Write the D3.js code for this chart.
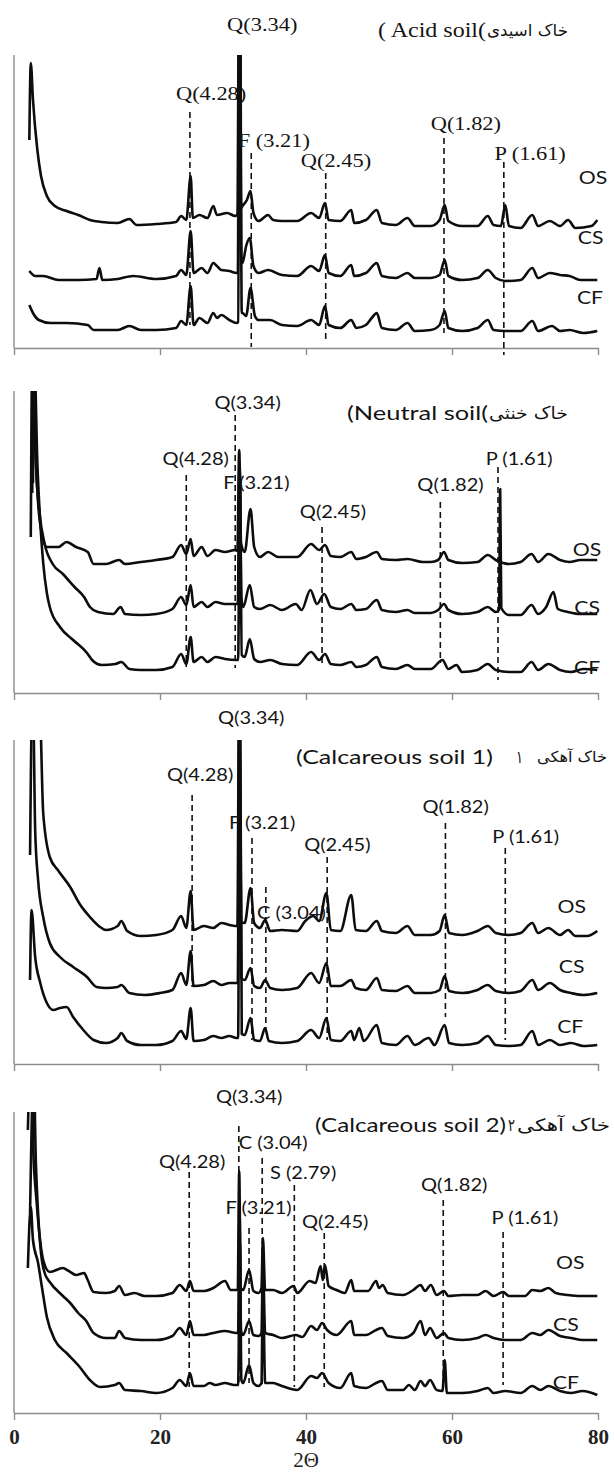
<!DOCTYPE html>
<html>
<head>
<meta charset="utf-8">
<script src="https://cdn.jsdelivr.net/npm/d3@7"></script>
<style>
  body { margin: 0; background: #fff; }
</style>
</head>
<body>
<div id="chart"></div>
<script>
// ---- data: [2theta, intensity (a.u., stacked)] ----
var acidOS = [[2.1,208],[2.3,285],[2.6,248],[3.2,198],[3.7,172],[4.5,152],[5.6,142],[7.2,137],[8.8,133],[10.4,128],[12.0,126],[14.2,125],[15.8,129],[16.8,123],[19.5,124],[22.2,126],[22.9,132],[23.6,128],[24.2,172],[24.5,130],[25.4,133],[26.5,130],[27.3,142],[27.8,133],[29.2,135],[30.3,132],[30.6,134],[30.85,400],[31.1,140],[31.3,142],[31.9,148],[32.4,157],[32.8,135],[33.5,127],[34.8,133],[35.5,128],[36.7,127],[38.8,127],[40.7,135],[41.8,130],[42.6,145],[43.1,128],[44.7,127],[46.2,138],[46.6,125],[48.2,128],[49.7,138],[50.4,125],[52.3,123],[53.9,130],[54.9,122],[57.1,122],[58.3,128],[59.0,143],[59.5,127],[61.4,122],[63.5,122],[64.9,132],[65.7,123],[66.7,122],[67.3,143],[67.8,122],[69.4,120],[71.0,133],[71.8,122],[73.4,127],[74.8,122],[75.9,128],[76.9,120],[79.1,122],[79.9,128]];
var acidCS = [[2.1,77],[2.9,72],[4.0,72],[6.1,68],[8.8,68],[11.3,69],[11.7,80],[12.1,68],[14.2,69],[16.3,72],[19.5,69],[22.2,72],[22.9,78],[23.6,73],[24.2,117],[24.6,75],[25.7,80],[26.5,75],[27.3,85],[27.8,82],[28.4,78],[29.5,77],[30.5,75],[30.65,76],[30.9,400],[31.15,85],[31.3,85],[31.8,102],[32.3,110],[32.8,82],[33.5,75],[34.8,78],[36.7,73],[38.8,72],[40.7,82],[41.8,77],[42.6,93],[43.1,75],[44.7,72],[46.2,83],[46.6,72],[48.2,75],[49.7,85],[50.4,72],[52.3,70],[53.9,75],[54.9,70],[57.1,70],[58.3,73],[59.0,88],[59.5,72],[61.4,68],[63.5,70],[64.9,78],[66.0,70],[67.3,67],[69.4,68],[71.0,80],[71.8,70],[73.4,75],[74.8,73],[76.1,72],[77.6,68],[79.9,68]];
var acidCF = [[2.1,43],[2.6,35],[3.4,28],[5.0,25],[7.2,25],[10.1,23],[10.9,18],[14.2,18],[15.8,22],[17.4,18],[19.5,18],[22.2,20],[22.9,27],[23.6,23],[24.2,62],[24.6,23],[25.4,30],[26.5,25],[27.3,35],[27.8,30],[28.4,33],[29.5,28],[30.5,25],[30.7,26],[30.95,400],[31.2,35],[31.3,35],[31.8,32],[32.4,60],[33.0,32],[33.5,28],[35.1,28],[36.7,23],[38.8,22],[40.7,28],[41.8,23],[42.6,42],[43.1,23],[44.7,20],[46.2,28],[46.9,20],[48.2,23],[49.0,30],[49.7,35],[50.4,20],[52.3,18],[53.9,25],[54.9,17],[57.1,18],[58.3,23],[59.0,37],[59.5,20],[61.4,17],[63.5,20],[64.9,28],[65.7,18],[67.3,17],[69.4,17],[71.0,27],[71.8,17],[73.7,22],[74.8,17],[76.1,18],[78.0,15],[79.9,17]];

var neutralOS = [[2.3,156],[2.5,330],[2.9,250],[3.3,190],[3.8,160],[4.5,146],[6.1,146],[7.2,151],[8.5,146],[10.1,141],[10.9,129],[12.6,129],[14.4,133],[15.2,129],[17.4,131],[19.5,133],[21.7,136],[22.9,148],[23.6,139],[24.2,154],[24.6,137],[25.7,146],[26.5,137],[27.6,143],[28.9,141],[30.3,143],[30.6,142],[30.85,243],[31.1,150],[31.6,141],[32.4,184],[32.9,146],[33.7,136],[34.8,141],[36.2,136],[38.8,136],[40.7,149],[41.8,143],[42.6,148],[43.4,137],[44.7,136],[46.2,141],[46.9,134],[48.2,136],[49.7,141],[50.4,134],[52.3,133],[53.9,134],[56.0,131],[57.1,131],[58.1,133],[58.9,141],[59.5,133],[61.4,130],[63.5,131],[64.9,138],[66.0,133],[67.8,129],[69.4,131],[70.9,139],[71.8,131],[73.2,139],[74.8,133],[76.1,131],[77.6,133],[79.9,133]];
var neutralCS = [[2.5,200],[2.7,330],[3.0,230],[3.5,180],[4.2,149],[5.3,129],[6.7,119],[8.3,106],[9.6,96],[10.4,86],[11.5,81],[13.6,79],[14.6,86],[15.2,79],[17.4,78],[19.5,79],[21.7,84],[22.9,96],[23.6,88],[24.2,108],[24.6,86],[25.7,91],[26.5,86],[27.6,91],[28.9,89],[30.3,89],[30.65,89],[30.9,230],[31.15,95],[31.4,86],[32.3,108],[32.9,86],[33.7,84],[35.1,88],[36.7,83],[38.6,89],[39.4,83],[40.6,103],[41.5,89],[42.5,99],[43.4,86],[44.7,84],[46.2,89],[46.9,83],[48.2,84],[49.7,93],[50.4,83],[52.3,81],[53.9,83],[54.9,80],[57.1,80],[58.1,83],[58.9,89],[59.5,83],[61.4,79],[63.5,81],[64.9,86],[66.0,81],[66.45,83],[66.6,204],[66.75,85],[67.8,78],[69.4,78],[70.9,88],[71.8,79],[72.9,86],[73.9,101],[74.5,84],[75.9,81],[77.6,79],[79.9,79]];
var neutralCF = [[2.6,210],[2.8,330],[3.2,230],[3.6,170],[4.0,130],[4.5,100],[4.9,86],[6.3,66],[8.1,53],[10.0,40],[10.7,33],[12.0,28],[13.9,29],[14.7,31],[15.8,24],[17.4,23],[19.5,23],[21.7,26],[22.9,39],[23.6,29],[24.2,56],[24.6,31],[25.7,36],[26.5,31],[27.6,36],[28.9,34],[30.5,33],[30.7,33],[30.95,220],[31.2,38],[31.6,36],[32.3,54],[32.9,34],[33.7,31],[35.1,33],[36.7,29],[38.8,28],[40.7,41],[41.8,33],[42.6,39],[43.4,29],[44.7,28],[46.2,31],[46.9,26],[48.2,28],[49.7,36],[50.4,26],[52.3,24],[53.9,28],[54.9,24],[57.1,24],[58.7,33],[59.5,24],[60.6,28],[61.4,21],[63.5,23],[64.9,29],[66.0,23],[67.8,21],[69.4,21],[70.9,31],[71.8,23],[73.2,29],[74.8,23],[76.3,21],[78.0,24],[79.9,23]];

var calc1OS = [[2.2,209],[2.5,360],[3.5,360],[4.0,251],[4.9,207],[6.1,193],[7.7,177],[9.0,160],[10.4,147],[11.8,137],[12.6,134],[14.2,138],[14.7,143],[15.5,133],[17.4,128],[19.5,129],[21.7,134],[22.9,148],[23.6,136],[24.2,173],[24.6,134],[26.0,138],[27.3,136],[28.4,141],[29.5,139],[30.3,138],[30.6,138],[30.85,400],[31.1,142],[31.6,141],[32.4,176],[32.9,141],[33.7,136],[34.4,144],[35.1,133],[36.7,134],[38.8,133],[39.9,143],[41.0,148],[41.8,143],[42.8,171],[43.4,134],[44.7,133],[46.2,169],[46.8,134],[48.2,133],[49.7,143],[50.4,133],[52.3,131],[53.9,138],[54.9,129],[57.1,129],[58.3,133],[59.0,149],[59.6,131],[61.4,129],[63.5,133],[64.9,138],[66.0,131],[67.8,129],[69.4,131],[71.0,141],[71.8,131],[73.2,136],[74.8,129],[75.9,134],[76.9,128],[78.5,128],[79.9,133]];
var calc1CS = [[2.4,360],[2.6,360],[2.9,234],[3.3,184],[4.0,147],[4.9,121],[6.3,107],[8.1,97],[10.0,87],[11.3,77],[12.6,76],[14.2,77],[14.7,79],[15.8,71],[17.9,69],[20.0,71],[21.7,74],[22.9,91],[23.6,79],[24.2,113],[24.6,78],[26.0,79],[27.3,83],[28.4,79],[29.5,81],[30.5,81],[30.65,81],[30.9,400],[31.15,86],[31.6,84],[32.4,96],[32.9,78],[33.7,76],[34.4,84],[35.1,76],[36.7,74],[38.8,76],[40.7,91],[41.8,81],[42.8,101],[43.4,78],[44.7,78],[46.2,84],[46.8,76],[48.2,74],[49.7,86],[50.4,74],[52.3,73],[53.9,78],[54.9,71],[57.1,71],[58.3,74],[59.0,88],[59.6,73],[61.4,71],[63.5,74],[64.9,79],[66.0,73],[67.8,71],[69.4,73],[71.0,84],[71.8,74],[73.4,81],[74.8,74],[76.3,71],[78.0,69],[79.9,71]];
var calc1CF = [[2.2,84],[2.4,154],[2.9,107],[3.6,81],[4.5,61],[5.4,54],[6.3,56],[7.2,57],[8.1,47],[9.5,34],[10.9,24],[12.6,21],[14.2,26],[14.7,31],[15.5,23],[17.4,19],[19.5,19],[21.7,23],[22.9,33],[23.6,25],[24.2,56],[24.6,23],[26.0,24],[27.3,28],[28.4,26],[29.5,28],[30.5,26],[30.7,26],[30.95,400],[31.2,30],[31.6,29],[32.4,46],[32.9,24],[33.7,23],[34.4,36],[34.9,23],[36.7,21],[38.8,23],[40.7,34],[41.8,26],[42.8,46],[43.4,24],[44.7,23],[46.2,33],[46.6,24],[47.3,36],[47.9,23],[49.7,39],[50.4,21],[52.3,19],[53.9,28],[54.9,19],[56.8,26],[57.6,19],[59.0,39],[59.6,21],[61.4,19],[63.5,21],[64.9,28],[66.0,19],[67.8,18],[69.4,19],[71.0,33],[71.8,19],[73.4,24],[74.8,19],[76.3,21],[78.0,18],[79.9,19]];

var calc2OS = [[1.9,283],[2.2,340],[2.5,340],[2.6,271],[3.1,211],[3.6,171],[4.0,153],[4.9,141],[6.7,145],[7.5,142],[8.5,138],[9.6,140],[10.1,133],[10.9,121],[12.6,120],[13.8,122],[14.4,127],[15.2,118],[16.5,120],[17.9,117],[19.5,117],[21.7,120],[22.7,128],[23.6,122],[24.1,132],[24.6,122],[26.0,122],[27.3,125],[28.9,132],[29.7,123],[30.5,123],[30.65,124],[30.85,242],[31.05,125],[31.4,123],[32.2,143],[32.8,122],[33.5,120],[33.9,125],[34.1,175],[34.4,123],[35.5,123],[36.7,120],[38.3,127],[38.8,120],[40.5,132],[41.3,130],[42.0,147],[42.3,133],[42.6,148],[43.1,127],[44.2,123],[45.3,120],[46.2,133],[46.6,122],[48.5,122],[49.6,132],[50.0,125],[50.5,128],[51.2,120],[53.3,118],[54.7,123],[55.7,128],[56.3,122],[57.1,128],[57.9,118],[58.9,122],[59.5,117],[61.4,118],[63.5,118],[64.6,122],[65.7,117],[67.0,121],[67.8,117],[70.0,117],[71.0,123],[72.1,122],[73.2,125],[74.2,120],[75.9,118],[77.6,117],[79.9,117]];
var calc2CS = [[2.2,200],[2.7,340],[3.0,250],[3.3,200],[3.7,160],[4.2,140],[4.9,131],[6.7,117],[7.7,110],[8.8,100],[9.9,92],[10.9,80],[12.6,75],[13.8,75],[14.4,82],[15.2,75],[17.4,73],[19.5,73],[21.7,77],[22.7,85],[23.6,78],[24.1,92],[24.6,78],[26.0,78],[27.3,80],[28.9,82],[30.5,80],[30.7,80],[30.9,200],[31.1,82],[31.4,78],[32.2,92],[32.8,78],[33.5,77],[33.9,80],[34.1,150],[34.4,80],[35.5,78],[36.7,75],[38.6,78],[39.5,76],[40.7,87],[41.5,83],[42.2,90],[42.9,83],[44.2,78],[46.2,92],[46.6,78],[48.2,78],[49.6,83],[50.4,85],[51.2,77],[53.3,75],[54.7,80],[55.7,92],[56.3,78],[57.0,85],[57.9,75],[58.9,80],[59.5,75],[61.4,73],[63.5,75],[64.6,78],[65.7,75],[67.3,73],[69.4,73],[71.0,80],[72.1,78],[73.2,83],[74.8,77],[76.3,75],[77.9,73],[79.9,73]];
var calc2CF = [[1.9,145],[2.3,206],[2.6,173],[3.3,150],[3.8,127],[4.5,96],[5.6,73],[7.2,60],[9.0,46],[10.4,33],[11.8,26],[13.8,28],[14.4,30],[15.2,23],[17.4,22],[19.5,20],[21.7,25],[22.7,33],[23.6,27],[24.1,40],[24.6,27],[26.0,27],[26.8,30],[27.6,28],[28.9,30],[30.2,28],[30.7,28],[30.95,170],[31.15,33],[31.4,30],[32.2,48],[32.8,30],[33.5,27],[33.9,30],[34.1,130],[34.4,30],[35.5,30],[36.7,27],[38.8,23],[40.7,37],[41.5,35],[42.2,40],[43.1,30],[44.7,25],[46.2,40],[46.6,27],[48.2,25],[49.6,30],[50.4,32],[51.2,23],[53.3,23],[54.1,28],[54.9,23],[55.7,32],[56.3,27],[57.0,33],[57.9,23],[58.7,22],[59.0,53],[59.3,20],[61.4,20],[63.5,22],[64.9,25],[65.7,20],[67.3,22],[69.4,20],[71.0,27],[72.1,23],[73.2,27],[74.8,22],[76.3,20],[77.9,22],[79.9,18]];

var sampleNames = ["OS", "CS", "CF"];
var tickValues = [0, 20, 40, 60, 80];
var axisTitle = "2\u0398";

// panel titles, split into pieces left to right (latin, digit, persian)
var acidTitle = ["( Acid soil(", "خاک اسیدی"];
var neutralTitle = ["(Neutral soil(", "خاک خنثی"];
var calc1Title = ["(Calcareous soil 1)", "۱", "خاک آهکی"];
var calc2Title = ["(Calcareous soil 2)", "۲", "خاک  آهکی"];

// reference peaks (d-spacing labels) and the 2theta of their dashed guide lines
var acidMarks = ["Q(3.34)", "Q(4.28)", "F (3.21)", "Q(2.45)", "Q(1.82)", "P (1.61)"];
var acidMarkAngles = [null, 24.1, 32.5, 42.7, 58.9, 67.1];
var neutralMarks = ["Q(3.34)", "Q(4.28)", "F (3.21)", "Q(2.45)", "Q(1.82)", "P (1.61)"];
var neutralMarkAngles = [30.3, 23.6, null, 42.2, 58.4, 66.3];
var calc1Marks = ["Q(3.34)", "Q(4.28)", "F (3.21)", "C (3.04)", "Q(2.45)", "Q(1.82)", "P (1.61)"];
var calc1MarkAngles = [null, 24.4, 32.6, 34.5, 42.9, 59.1, 67.3];
var calc2Marks = ["Q(3.34)", "C (3.04)", "Q(4.28)", "S (2.79)", "F (3.21)", "Q(2.45)", "Q(1.82)", "P (1.61)"];
var calc2MarkAngles = [30.8, 34.0, 24.0, 38.4, 32.2, 42.5, 58.8, 67.0];

// ---- layout ----
var width = 614, height = 1475;
var STRETCH = 1.18;
var serif = "'Liberation Serif', 'Times New Roman', 'DejaVu Serif', serif";
var sans = "Lato, 'DejaVu Sans', sans-serif";
var arabic = "'DejaVu Sans', sans-serif";

// titleBoxes: px extent [x0, x1] of each title piece; titleSizes: font size of each piece
var panels = [
  {top: 55, axis: 348, series: [acidOS, acidCS, acidCF], title: acidTitle, titleFont: serif,
   titleBoxes: [[378, 486], [487, 568]], titleSizes: [20, 16], titleY: 30,
   marks: acidMarks, angles: acidMarkAngles, markFont: serif, markSize: 19,
   spans: [null, [23,236], [1,195], [8,175], [15,210], [-7,186]],
   labelAt: [[34.0,324], [27.0,255], [35.6,208], [44.1,188], [61.9,225], [70.7,195]],
   sampleAt: [[79.3,170], [79.0,110], [78.9,50]]},
  {top: 391, axis: 693, series: [neutralOS, neutralCS, neutralCF], title: neutralTitle, titleFont: sans,
   titleBoxes: [[347, 488], [489, 568]], titleSizes: [20, 17], titleY: 413,
   marks: neutralMarks, angles: neutralMarkAngles, markFont: sans, markSize: 17,
   spans: [[25,278], [26,218], null, [26,166], [30,191], [13,226]],
   labelAt: [[32.0,290], [24.9,234], [33.2,210], [43.7,181], [59.8,208], [69.2,234]],
   sampleAt: [[78.5,143], [78.5,85], [78.5,25]]},
  {top: 740, axis: 1064, series: [calc1OS, calc1CS, calc1CF], title: calc1Title, titleFont: sans,
   titleBoxes: [[296, 493], [516, 523], [537, 607]], titleSizes: [20, 17, 15], titleY: 757,
   marks: calc1Marks, angles: calc1MarkAngles, markFont: sans, markSize: 17,
   spans: [null, [77,269], [24,226], [34,177], [24,207], [47,241], [24,216]],
   labelAt: [[32.5,346], [25.5,289], [34.0,241], [38.0,151], [44.3,219], [60.5,257], [70.1,227]],
   sampleAt: [[76.4,157], [76.4,97], [76.2,37]]},
  {top: 1112, axis: 1413, series: [calc2OS, calc2CS, calc2CF], title: calc2Title, titleFont: sans,
   titleBoxes: [[315, 506], [508, 515], [517, 610]], titleSizes: [20, 17, 17], titleY: 1125,
   marks: calc2Marks, angles: calc2MarkAngles, markFont: sans, markSize: 17,
   spans: [[27,287], [27,255], [26,241], [26,228], [30,185], [26,180], [26,213], [28,181]],
   labelAt: [[32.2,316], [35.5,270], [24.4,251], [39.6,240], [33.5,205], [44.0,191], [60.3,228], [70.0,195]],
   sampleAt: [[76.2,150], [75.6,88], [75.6,30]]}
];

var svg = d3.select("#chart")
  .append("svg")
    .attr("width", width)
    .attr("height", height)
    .style("display", "block");

var x = d3.scaleLinear()
  .domain([0, 80])
  .range([14, 598]);

function stretchedText(g, str, px, py, anchor, font, size) {
  return g.append("text")
    .attr("transform", "translate(" + px + "," + py + ") scale(" + STRETCH + ",1)")
    .attr("text-anchor", anchor)
    .attr("dy", "0.35em")
    .style("font-family", font)
    .style("font-size", size + "px")
    .attr("fill", "#141414")
    .text(str);
}

function fittedText(g, str, x0, x1, py, font, size) {
  return g.append("text")
    .attr("x", x0)
    .attr("y", py)
    .attr("dy", "0.35em")
    .attr("textLength", x1 - x0)
    .attr("lengthAdjust", "spacingAndGlyphs")
    .style("font-family", font)
    .style("font-size", size + "px")
    .attr("fill", "#141414")
    .text(str);
}

panels.forEach(function(p, i) {
  var g = svg.append("g");
  var y = d3.scaleLinear()
    .domain([0, p.axis - p.top])
    .range([p.axis, p.top]);

  // left axis line
  g.append("line")
    .attr("x1", x(0)).attr("x2", x(0))
    .attr("y1", p.top).attr("y2", p.axis)
    .attr("stroke", "#8c8c8c")
    .attr("stroke-width", 1.4);

  // bottom axis
  var ax = g.append("g")
    .attr("transform", "translate(0," + p.axis + ")")
    .call(d3.axisBottom(x)
      .tickValues(tickValues)
      .tickSize(7)
      .tickSizeOuter(0)
      .tickPadding(9)
      .tickFormat(i === panels.length - 1 ? d3.format("d") : ""));
  ax.select(".domain").attr("stroke", "#8c8c8c").attr("stroke-width", 1.4);
  ax.selectAll(".tick line").attr("stroke", "#8c8c8c").attr("stroke-width", 1.4);
  ax.selectAll(".tick text")
    .attr("fill", "#222")
    .style("font-family", serif)
    .style("font-size", "21px")
    .style("font-weight", "bold");

  // clip traces to the plot box
  var clipId = "clip" + i;
  svg.append("clipPath").attr("id", clipId)
    .append("rect")
      .attr("x", x(0))
      .attr("y", p.top)
      .attr("width", x(80) - x(0) + 4)
      .attr("height", p.axis - p.top);

  // dashed guide lines
  p.angles.forEach(function(a, k) {
    if (a === null) return;
    g.append("line")
      .attr("x1", x(a)).attr("x2", x(a))
      .attr("y1", y(p.spans[k][1])).attr("y2", y(p.spans[k][0]))
      .attr("stroke", "#111")
      .attr("stroke-width", 1.6)
      .attr("stroke-dasharray", "6,4");
  });

  // XRD traces
  var line = d3.line()
    .curve(d3.curveMonotoneX)
    .x(function(d) { return x(d[0]); })
    .y(function(d) { return y(d[1]); });

  g.append("g")
    .attr("clip-path", "url(#" + clipId + ")")
    .selectAll("path")
    .data(p.series)
    .enter()
    .append("path")
      .attr("d", line)
      .attr("fill", "none")
      .attr("stroke", "#0d0d0d")
      .attr("stroke-width", 2.6)
      .attr("stroke-linejoin", "round");

  // peak labels
  p.marks.forEach(function(m, k) {
    stretchedText(g, m, x(p.labelAt[k][0]), y(p.labelAt[k][1]), "middle", p.markFont, p.markSize);
  });

  // sample labels
  sampleNames.forEach(function(s, k) {
    stretchedText(g, s, x(p.sampleAt[k][0]), y(p.sampleAt[k][1]), "middle", sans, 18);
  });

  // panel title pieces
  p.title.forEach(function(piece, k) {
    var box = p.titleBoxes[k];
    fittedText(g, piece, box[0], box[1], p.titleY, k === 0 ? p.titleFont : arabic, p.titleSizes[k]);
  });
});

// x axis title
svg.append("text")
  .attr("x", x(40))
  .attr("y", 1467)
  .attr("text-anchor", "middle")
  .style("font-family", serif)
  .style("font-size", "21px")
  .attr("fill", "#222")
  .text(axisTitle);
</script>
</body>
</html>
